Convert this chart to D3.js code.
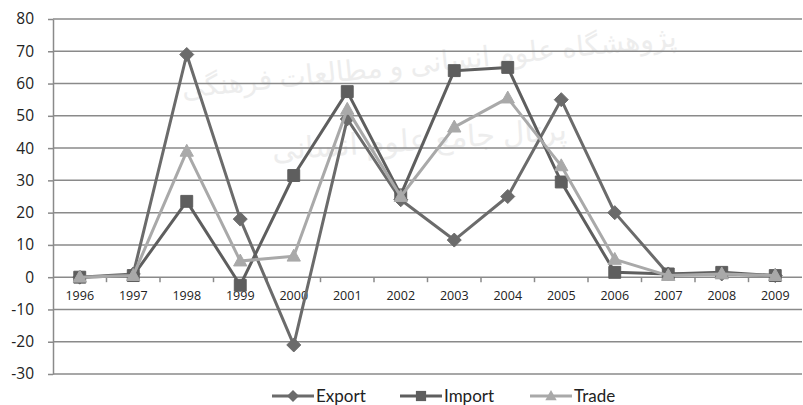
<!DOCTYPE html>
<html>
<head>
<meta charset="utf-8">
<script src="https://cdn.jsdelivr.net/npm/d3@7"></script>
<style>
body { margin: 0; background: #fff; }
svg { font-family: Lato, "Open Sans", sans-serif; }
</style>
</head>
<body>
<svg id="chart" width="803" height="405"></svg>
<script>
var years = ['1996','1997','1998','1999','2000','2001','2002','2003','2004','2005','2006','2007','2008','2009'];
var exportValues = [0, 1, 69, 18, -21, 49, 24, 11.5, 25, 55, 20, 1, 1, 0.5];
var importValues = [0, 0.5, 23.5, -2.5, 31.5, 57.5, 25.5, 64, 65, 29.5, 1.5, 1, 1.5, 0.5];
var tradeValues = [0, 0.5, 39, 5, 6.5, 52, 25, 46.5, 55.5, 34.5, 5.5, 0.5, 1, 0.5];
var yTicks = [-30, -20, -10, 0, 10, 20, 30, 40, 50, 60, 70, 80];

var series = [
  {name:'Export', values:exportValues, color:'#6b6b6b', marker:'diamond'},
  {name:'Import', values:importValues, color:'#5e5e5e', marker:'square'},
  {name:'Trade', values:tradeValues, color:'#a9a9a9', marker:'triangle'}
];

var svg = d3.select('#chart');
var plotLeft = 53, plotRight = 802, plotTop = 19, plotBottom = 374;

var x = d3.scaleBand().domain(years).range([plotLeft, plotRight]);
var y = d3.scaleLinear().domain([-30, 80]).range([plotBottom, plotTop]);

// faint watermark
var wm = svg.append('g').attr('fill','#ededed').attr('font-family','"Noto Sans", "DejaVu Sans", sans-serif');
wm.append('text').attr('x',430).attr('y',72).attr('text-anchor','middle')
  .attr('font-size',28).attr('transform','rotate(-6,430,72)').text('پژوهشگاه علوم انسانی و مطالعات فرهنگی');
wm.append('text').attr('x',420).attr('y',150).attr('text-anchor','middle')
  .attr('font-size',30).attr('transform','rotate(-4,420,150)').text('پرتال جامع علوم انسانی');

// grid lines
svg.append('g').selectAll('line').data(yTicks).enter().append('line')
  .attr('x1', plotLeft).attr('x2', plotRight)
  .attr('y1', function(d){return y(d);}).attr('y2', function(d){return y(d);})
  .attr('stroke', '#8a8a8a').attr('stroke-width', 1.5);

// y axis
var yAxis = svg.append('g').attr('transform','translate(' + plotLeft + ',0)')
  .call(d3.axisLeft(y).tickValues(yTicks).tickSize(5).tickSizeOuter(0)
    .tickFormat(function(d){ return String(d); }));
yAxis.select('.domain').attr('stroke','#8a8a8a').attr('stroke-width',1.5);
yAxis.selectAll('.tick line').attr('stroke','#8a8a8a').attr('stroke-width',1.5);
yAxis.selectAll('.tick text').attr('font-size',15.5).attr('fill','#222').attr('x',-19)
  .attr('font-family','"Open Sans", Lato, sans-serif');

// category axis on the zero line
var xAxis = svg.append('g').attr('transform','translate(0,' + y(0) + ')')
  .call(d3.axisBottom(x).tickSize(0).tickPadding(14));
xAxis.select('.domain').remove();
xAxis.selectAll('.tick text').attr('font-size',12.5).attr('fill','#222')
  .attr('font-family','"Open Sans", Lato, sans-serif');
svg.append('g').selectAll('line').data(years.slice(1)).enter().append('line')
  .attr('x1', function(d){return x(d);}).attr('x2', function(d){return x(d);})
  .attr('y1', y(0)).attr('y2', y(0) + 5)
  .attr('stroke','#8a8a8a').attr('stroke-width',1.5);

function cx(i){ return x(years[i]) + x.bandwidth() / 2; }

var line = d3.line()
  .x(function(d, i){ return cx(i); })
  .y(function(d){ return y(d); });

function markerPath(type, size){
  var s = size;
  if (type === 'diamond') return 'M0,' + (-s) + 'L' + s + ',0L0,' + s + 'L' + (-s) + ',0Z';
  if (type === 'square') return 'M' + (-s*0.85) + ',' + (-s*0.85) + 'h' + (s*1.7) + 'v' + (s*1.7) + 'h' + (-s*1.7) + 'Z';
  return 'M0,' + (-s) + 'L' + (s*0.95) + ',' + (s*0.7) + 'L' + (-s*0.95) + ',' + (s*0.7) + 'Z';
}

series.forEach(function(s){
  var g = svg.append('g');
  g.append('path').datum(s.values)
    .attr('d', line).attr('fill','none')
    .attr('stroke', s.color).attr('stroke-width', 3).attr('stroke-linejoin','round');
  g.selectAll('path.mk').data(s.values).enter().append('path')
    .attr('class','mk')
    .attr('d', markerPath(s.marker, 7))
    .attr('transform', function(d, i){ return 'translate(' + cx(i) + ',' + y(d) + ')'; })
    .attr('fill', s.color).attr('stroke', s.color).attr('stroke-width', 1);
});

// legend
var legendX = [272, 400, 530];
var legend = svg.append('g');
series.forEach(function(s, i){
  var lg = legend.append('g').attr('transform','translate(' + legendX[i] + ',396)');
  lg.append('line').attr('x1',0).attr('x2',42).attr('stroke',s.color).attr('stroke-width',3);
  lg.append('path').attr('d', markerPath(s.marker, 6)).attr('transform','translate(21,0)')
    .attr('fill', s.color);
  lg.append('text').attr('x',44).attr('y',6).attr('font-size',17).attr('fill','#222').text(s.name);
});
</script>
</body>
</html>
